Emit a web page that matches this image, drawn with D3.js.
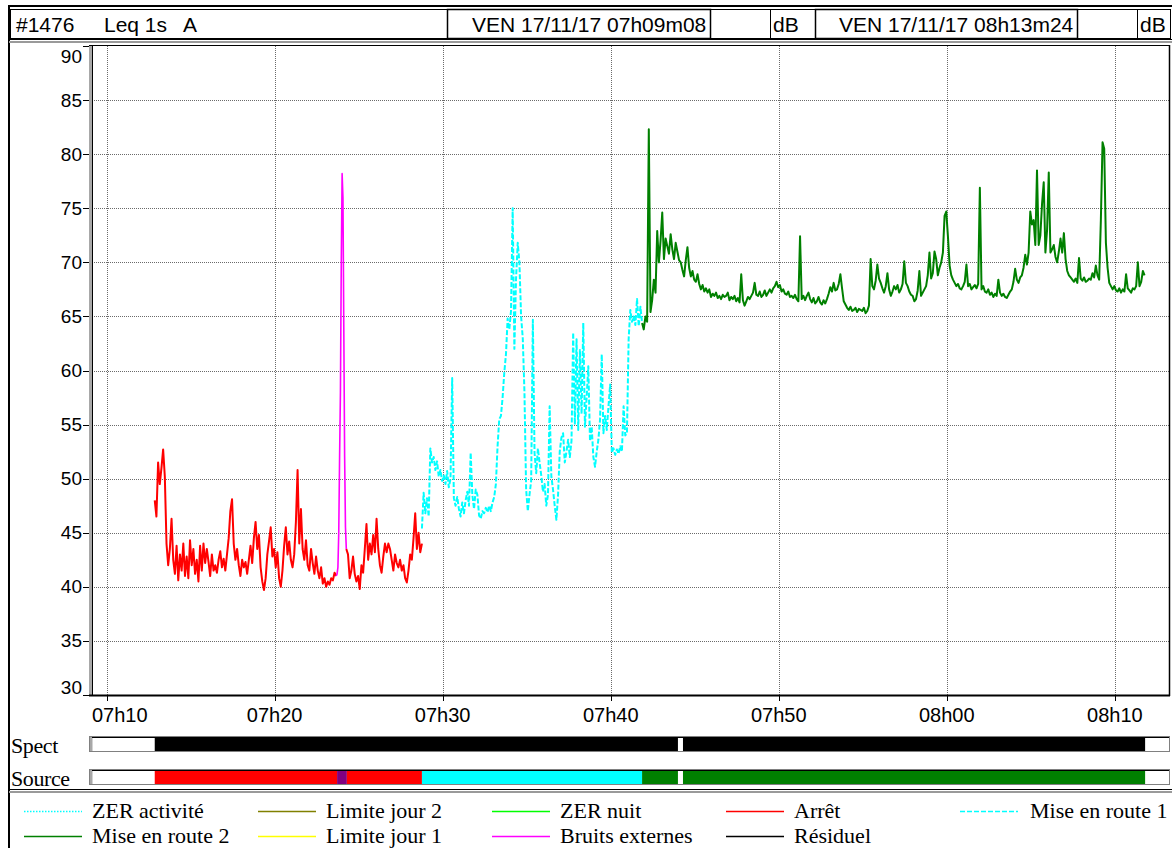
<!DOCTYPE html>
<html>
<head>
<meta charset="utf-8">
<script src="https://cdn.jsdelivr.net/npm/d3@7"></script>
<style>
  body { margin: 0; background: #fff; }
  svg { display: block; }
  .sans { font-family: "Liberation Sans", Arial, sans-serif; }
  .serif { font-family: "Liberation Serif", "Times New Roman", serif; }
</style>
</head>
<body>
<svg id="chart" width="1172" height="848"></svg>
<script>
// ---- Measurement window ----
const windowStart = "07:09:08";
const windowEnd = "08:13:24";
const headerTexts = ["#1476", "Leq 1s", "A"];
const headerStart = "VEN 17/11/17 07h09m08";
const headerEnd = "VEN 17/11/17 08h13m24";
const unitLabel = "dB";

// ---- Axes ----
const yTickValues = [30, 35, 40, 45, 50, 55, 60, 65, 70, 75, 80, 85, 90];
const xTickTimes = ["07:10:00", "07:20:00", "07:30:00", "07:40:00", "07:50:00", "08:00:00", "08:10:00"];
const xTickLabels = ["07h10", "07h20", "07h30", "07h40", "07h50", "08h00", "08h10"];

// ---- Leq 1s A series (dB), sampled every `step` seconds from their start time ----
const sampleStep = 6;

const arret1Start = "07:12:52";
const arret1Values = [
  48, 46.5, 51.5, 49.5, 51, 52.7, 50.2, 44, 42, 43.5,
  46.3, 42.5, 41.2, 43.8, 40.6, 43, 41.5, 44, 41, 42.8,
  40.8, 44.3, 42, 43.5, 41.2, 42.5, 40.5, 43.8, 41.5, 44,
  42.2, 43.5, 42.3, 41, 43, 41.5, 42, 41.3, 42.5, 43.3,
  41.8, 42.6, 41.5, 43, 44.5, 47, 48.1, 44, 42.5, 43.5,
  42, 41, 42.5, 41.8, 42.3, 41.2, 42.5, 43.8, 42.2, 44.5,
  46, 43.5, 44.8, 41.8, 40.5, 39.7, 40.8, 43, 44.2, 45.5,
  42.8, 43.5, 41.8, 43.2, 40.8, 40, 41.5, 43.8, 45.5, 43,
  44.2, 42.5, 41.8, 43, 46, 50.8, 44, 47.2, 43.5, 42.5,
  44.3, 42, 41.5, 43.5, 42.2, 41.2, 42.8, 41.5, 40.8, 41.8,
  40.3, 40.8, 40, 40.5, 40.2, 40.8, 40.6, 41.3, 41
];

const bruitsStart = "07:23:40";
const bruitsStep = 3;
const bruitsValues = [41, 41.2, 41.8, 45, 52, 58, 70, 78.2, 76, 64, 52, 45.5, 43.5];

const arret2Start = "07:24:16";
const arret2Values = [
  43.5, 43, 40.8, 41.5, 42.8, 41.2, 40.5, 41, 39.8, 42,
  41.3, 43.5, 45.8, 42.5, 44, 43, 44.8, 43.2, 46.3, 43.5,
  42, 41.3, 42.8, 44, 43.2, 44, 43.5, 42.5, 41.5, 43,
  42.2, 41.8, 42.5, 41.5, 42, 40.8, 40.4, 41.5, 43, 42.5,
  44.5, 46.8, 43.5, 45, 43.2, 44
];

const route1Start = "07:28:46";
const route1Values = [
  45.4, 48.7, 46.8, 48.2, 46.5, 52.8, 51.5, 52, 50.8, 51.6,
  50.2, 50.8, 49.8, 50.3, 49.5, 50.7, 49.2, 50, 59.3, 48.2,
  47.5, 48.3, 47.2, 46.5, 47.8, 46.8, 48, 48.8, 47.5, 52.4,
  48.5, 47.2, 49, 48.5, 46.6, 46.3, 47, 46.8, 47.3, 46.9,
  47.5, 47, 47.8, 48.3, 49.5, 53, 55.5, 55.8, 57.5, 59.8,
  61.5, 64.8, 63.8, 65.5, 75, 62, 68.5, 71.8, 70, 65,
  63, 58, 49, 47, 48.5, 49.8, 64.7, 52.4, 50.5, 52.8,
  51.5, 50.3, 48.8, 49.5, 47.5, 48.5, 56.7, 50.2, 49, 47.5,
  46.2, 48.5, 52.5, 53.8, 54.2, 51.5, 52.5, 53.6, 52, 53.5,
  63.5, 55, 62.9, 54.5, 61.9, 56, 64.4, 54.8, 57.5, 60.4,
  53.5, 54.8, 52, 51.1, 52.5, 53.6, 55.5, 61.5, 54.2, 55.8,
  54.5, 56.7, 58.7, 52.4, 52.8, 52.2, 52.7, 52.3, 53, 52.5,
  56.7, 54, 54.2, 62.9, 65.6, 64.5, 65, 64.2, 66.6, 64.1,
  65.9, 64.4
];

const route2Start = "07:41:52";
const route2Values = [
  64.4, 63.8, 65, 64.5, 82.3, 65.4, 66.5, 68.4, 67.2, 72.9,
  70, 72, 74.6, 70.3, 72.2, 71.5, 70.8, 72.6, 71.2, 70.3,
  71.8, 71, 70.2, 70, 69.3, 68.7, 70.2, 71.4, 69.5, 68.7,
  69.2, 68.4, 68.2, 68.9, 68, 67.5, 67.9, 67.3, 67.6, 67.2,
  67.5, 66.8, 67.1, 66.9, 67.2, 66.7, 66.9, 66.6, 67, 66.8,
  66.9, 67.2, 66.5, 66.8, 66.6, 66.9, 66.4, 66.7, 66.3, 68.9,
  66.5, 66, 66.4, 66.8, 66.6, 66.9, 67.2, 68.1, 67, 66.9,
  67.3, 66.8, 67, 67.4, 66.9, 67.2, 67.5, 67.2, 67.6, 67.8,
  68.2, 67.7, 67.9, 67.3, 67.5, 67.1, 67, 67.3, 66.8, 66.9,
  66.7, 67, 66.6, 66.4, 72.4, 66.6, 66.9, 66.5, 66.9, 67.2,
  66.6, 66.3, 66.7, 66.2, 66.4, 66.8, 66.3, 66.1, 66.5, 66.2,
  66.6, 67.1, 67.7, 67.3, 68.1, 67.4, 67.5, 68, 68.9, 67.6,
  66.4, 66.1, 65.8, 65.6, 65.9, 65.5, 65.6, 65.8, 65.4, 65.7,
  65.6, 65.5, 65.8, 65.3, 65.5, 66, 70.3, 67.8, 67.5, 68.3,
  69.8, 68.5, 68.1, 67.6, 67.2, 67.8, 69, 67.5, 66.9, 67.3,
  67.8, 67.5, 67.9, 67.2, 67.5, 68, 70.1, 68.1, 67.8, 67.3,
  67, 66.9, 66.4, 66.6, 67.4, 69.2, 66.9, 67.2, 67.5, 67.8,
  68.8, 70.9, 68.5, 69, 71, 70.3, 68.8, 69.5, 70, 70.9,
  74.3, 74.7, 72.4, 69.7, 68.8, 68.4, 68.1, 67.8, 68, 67.6,
  67.5, 67.8, 68.2, 69.8, 67.8, 68, 67.5, 67.7, 67.9, 67.6,
  68, 76.9, 67.5, 67.8, 67.3, 67.2, 67.5, 67, 67.2, 66.8,
  67.1, 66.9, 68.4, 67.2, 66.9, 67.1, 66.8, 66.7, 67, 67.3,
  67.5, 68.2, 69.4, 68.4, 68.1, 68.6, 68.8, 69.5, 70.7, 69.8,
  70.9, 74.7, 73.5, 73.9, 71.6, 78.5, 71.6, 72.5, 75.4, 77.4,
  70.9, 73, 78.3, 70.9, 71.2, 71.6, 70.5, 70, 71, 72.2,
  70.9, 72.7, 70.3, 69.2, 68.8, 68.6, 68.4, 68.2, 68.5, 68.1,
  70.4, 68.5, 68.3, 68.6, 68.2, 68.3, 68.5, 68.4, 69, 68.6,
  69.7, 68.8, 68.4, 73.9, 81.1, 80.5, 71.8, 69.5, 68.1, 67.8,
  67.5, 67.8, 67.4, 67.3, 67.6, 67.2, 67.5, 67.3, 68.9, 67.6,
  67.4, 67.2, 67.6, 67.5, 67.8, 70, 67.8, 68.2, 69.2, 68.8
];

// ---- Spectrum / source coding bands: [start, end, category] ----
const spectSegments = [
  ["07:12:52", "07:44:00", "Spect"],
  ["07:44:18", "08:11:48", "Spect"]
];
const sourceSegments = [
  ["07:12:52", "07:23:43", "Arrêt"],
  ["07:23:43", "07:24:18", "Bruits externes"],
  ["07:24:18", "07:28:46", "Arrêt"],
  ["07:28:46", "07:41:52", "Mise en route 1"],
  ["07:41:52", "07:44:00", "Mise en route 2"],
  ["07:44:18", "08:11:48", "Mise en route 2"]
];

// ---- Legend entries (two rows, five columns) ----
const legendRow1 = ["ZER activité", "Limite jour 2", "ZER nuit", "Arrêt", "Mise en route 1"];
const legendRow2 = ["Mise en route 2", "Limite jour 1", "Bruits externes", "Résiduel"];

// ---- Styles ----
const lineStyle = {
  "ZER activité":    { color: "#00ffff", dash: "1.5,1.5" },
  "Limite jour 2":   { color: "#808000", dash: null },
  "ZER nuit":        { color: "#00ff00", dash: null },
  "Arrêt":           { color: "#ff0000", dash: null },
  "Mise en route 1": { color: "#00ffff", dash: "5,2" },
  "Mise en route 2": { color: "#008000", dash: null },
  "Limite jour 1":   { color: "#ffff00", dash: null },
  "Bruits externes": { color: "#ff00ff", dash: null },
  "Résiduel":        { color: "#000000", dash: null }
};
const bandColor = {
  "Spect": "#000000",
  "Arrêt": "#ff0000",
  "Bruits externes": "#800080",
  "Mise en route 1": "#00ffff",
  "Mise en route 2": "#008000"
};

// ---- Layout ----
const plot = { left: 92, right: 1172, top: 46, bottom: 695 };
const frameRight = 1170;

const svg = d3.select("#chart");
const parse = d3.timeParse("%H:%M:%S");

const x = d3.scaleTime()
  .domain([parse(windowStart), parse(windowEnd)])
  .range([plot.left, plot.right]);
const y = d3.scaleLinear()
  .domain([30, 90])
  .range([plot.bottom, plot.top]);

// ---- Outer frame & header ----
svg.append("rect").attr("x", 9).attr("y", 6).attr("width", 1175).attr("height", 860)
  .attr("fill", "none").attr("stroke", "#000").attr("stroke-width", 2);

const headerCells = [
  [10, 447], [447, 710], [710, 770], [770, 815], [815, 1077], [1077, 1137], [1137, 1170]
];
headerCells.forEach(([a, b], i) => {
  svg.append("rect").attr("x", a + 0.5).attr("y", 9.5).attr("width", b - a).attr("height", 29)
    .attr("fill", "none").attr("stroke", "#000").attr("stroke-width", (i === 1 || i === 4) ? 1.5 : 1);
});
svg.append("line").attr("x1", 9).attr("x2", 1172).attr("y1", 39.5).attr("y2", 39.5)
  .attr("stroke", "#000").attr("stroke-width", 1);
svg.append("line").attr("x1", 9).attr("x2", 1172).attr("y1", 42).attr("y2", 42)
  .attr("stroke", "#9a9a9a").attr("stroke-width", 2);

const hdr = svg.append("g").attr("class", "sans").attr("font-size", 21).attr("fill", "#000");
hdr.append("text").attr("x", 16).attr("y", 32).text(headerTexts[0]);
hdr.append("text").attr("x", 104).attr("y", 32).text(headerTexts[1]);
hdr.append("text").attr("x", 183).attr("y", 32).text(headerTexts[2]);
hdr.append("text").attr("x", 472).attr("y", 32).text(headerStart);
hdr.append("text").attr("x", 773).attr("y", 32).text(unitLabel);
hdr.append("text").attr("x", 839).attr("y", 32).text(headerEnd);
hdr.append("text").attr("x", 1140).attr("y", 32).text(unitLabel);

// ---- Grid ----
const grid = svg.append("g").attr("stroke", "#6a6a6a").attr("stroke-width", 1).attr("stroke-dasharray", "1,1");
yTickValues.filter(v => v > 30 && v < 90).forEach(v => {
  grid.append("line").attr("x1", plot.left).attr("x2", frameRight)
    .attr("y1", Math.round(y(v)) + 0.5).attr("y2", Math.round(y(v)) + 0.5);
});
xTickTimes.forEach(t => {
  const xx = Math.round(x(parse(t))) + 0.5;
  grid.append("line").attr("x1", xx).attr("x2", xx).attr("y1", plot.top).attr("y2", plot.bottom);
});

// ---- Plot frame ----
svg.append("rect").attr("x", 89).attr("y", 45).attr("width", 3).attr("height", plot.bottom - 45 + 1)
  .attr("fill", "#a8a8a8");
svg.append("line").attr("x1", 92.5).attr("x2", 92.5).attr("y1", 45).attr("y2", plot.bottom + 1)
  .attr("stroke", "#000");
svg.append("line").attr("x1", 89).attr("x2", frameRight).attr("y1", 45.5).attr("y2", 45.5)
  .attr("stroke", "#000");
svg.append("line").attr("x1", frameRight - 0.5).attr("x2", frameRight - 0.5).attr("y1", 45).attr("y2", plot.bottom + 1)
  .attr("stroke", "#000").attr("stroke-width", 1.5);
svg.append("line").attr("x1", 89).attr("x2", frameRight).attr("y1", plot.bottom + 0.5).attr("y2", plot.bottom + 0.5)
  .attr("stroke", "#000").attr("stroke-width", 2);

// ---- Y axis (end labels kept inside the plot height) ----
const yAxis = svg.append("g").attr("class", "sans").attr("font-size", 19);
yTickValues.forEach(v => {
  const yy = Math.round(y(v)) + 0.5;
  yAxis.append("line").attr("x1", 83).attr("x2", 89).attr("y1", yy).attr("y2", yy).attr("stroke", "#000");
  const ly = Math.min(Math.max(y(v), plot.top + 10), plot.bottom - 8);
  yAxis.append("text").attr("x", 82).attr("y", ly).attr("text-anchor", "end")
    .attr("dominant-baseline", "central").text(v);
});

// ---- X axis (labels kept inside the plot width) ----
const xAxis = svg.append("g").attr("class", "sans").attr("font-size", 20);
xTickTimes.forEach((t, i) => {
  const xt = x(parse(t));
  const xx = Math.round(xt) + 0.5;
  xAxis.append("line").attr("x1", xx).attr("x2", xx).attr("y1", plot.bottom + 1).attr("y2", plot.bottom + 6)
    .attr("stroke", "#000");
  const label = xAxis.append("text").attr("y", 722).text(xTickLabels[i]);
  const w = label.node().getComputedTextLength();
  const left = Math.min(Math.max(xt - w / 2, plot.left), frameRight - w);
  label.attr("x", left);
});

// ---- Series ----
function samples(start, step, values) {
  const t0 = parse(start);
  return values.map((v, i) => ({ t: d3.timeSecond.offset(t0, i * step), v }));
}
const line = d3.line().x(d => x(d.t)).y(d => y(d.v));
const series = [
  ["Arrêt", samples(arret1Start, sampleStep, arret1Values)],
  ["Arrêt", samples(arret2Start, sampleStep, arret2Values)],
  ["Mise en route 1", samples(route1Start, sampleStep, route1Values)],
  ["Mise en route 2", samples(route2Start, sampleStep, route2Values)],
  ["Bruits externes", samples(bruitsStart, bruitsStep, bruitsValues)]
];
const plotG = svg.append("g");
series.forEach(([name, data]) => {
  const st = lineStyle[name];
  plotG.append("path").datum(data).attr("d", line)
    .attr("fill", "none").attr("stroke", st.color)
    .attr("stroke-width", name === "Bruits externes" ? 1.6 : 2)
    .attr("stroke-linejoin", "round")
    .attr("stroke-dasharray", st.dash);
});

// ---- Spect / Source bands ----
const bandLabels = svg.append("g").attr("class", "serif").attr("font-size", 22);
bandLabels.append("text").attr("x", 11).attr("y", 753).attr("letter-spacing", -0.4).text("Spect");
bandLabels.append("text").attr("x", 11).attr("y", 786).attr("letter-spacing", -0.4).text("Source");

function band(top, segments) {
  const g = svg.append("g");
  g.append("rect").attr("x", 89.5).attr("y", top + 0.5).attr("width", frameRight - 90).attr("height", 15)
    .attr("fill", "#fff").attr("stroke", "#808080");
  g.append("rect").attr("x", 90).attr("y", top + 1).attr("width", 2.5).attr("height", 14).attr("fill", "#a8a8a8");
  g.append("line").attr("x1", 92).attr("x2", frameRight - 1).attr("y1", top + 1.5).attr("y2", top + 1.5)
    .attr("stroke", "#000");
  segments.forEach(([a, b, cat]) => {
    const xa = x(parse(a)), xb = x(parse(b));
    g.append("rect").attr("x", xa).attr("y", top + 2).attr("width", xb - xa).attr("height", 13)
      .attr("fill", bandColor[cat]);
  });
}
band(736, spectSegments);
band(769, sourceSegments);

// ---- Legend ----
svg.append("line").attr("x1", 9).attr("x2", 1172).attr("y1", 789.5).attr("y2", 789.5).attr("stroke", "#000");
svg.append("line").attr("x1", 9).attr("x2", 1172).attr("y1", 792).attr("y2", 792).attr("stroke", "#9a9a9a").attr("stroke-width", 2);

const legend = svg.append("g").attr("class", "serif").attr("font-size", 22);
[legendRow1, legendRow2].forEach((row, r) => {
  const ly = 811 + r * 25;
  row.forEach((name, c) => {
    const x0 = 24 + c * 234;
    const st = lineStyle[name];
    legend.append("line").attr("x1", x0).attr("x2", x0 + 58).attr("y1", ly + 0.5).attr("y2", ly + 0.5)
      .attr("stroke", st.color).attr("stroke-width", 1.5).attr("stroke-dasharray", st.dash);
    const tx = (r === 0 && c === 4) ? 1030 : x0 + 68;
    legend.append("text").attr("x", tx).attr("y", ly + 7).text(name);
  });
});
</script>
</body>
</html>
